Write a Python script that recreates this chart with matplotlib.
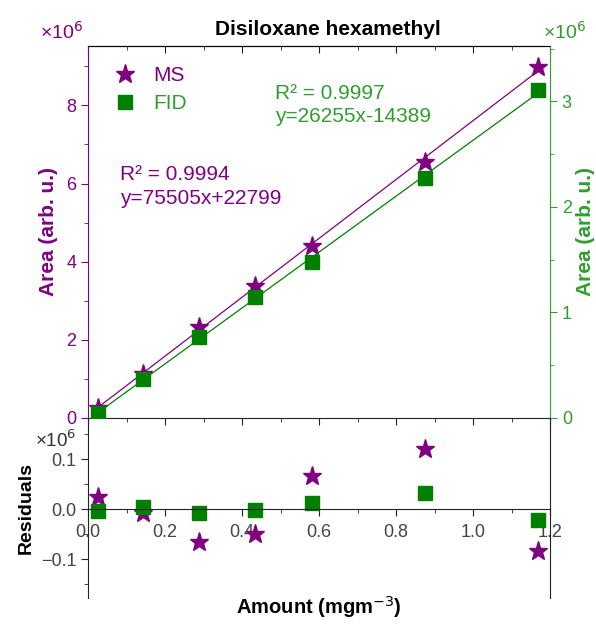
import numpy as np
import matplotlib
matplotlib.use('Agg')
import matplotlib.pyplot as plt
from matplotlib.ticker import MultipleLocator, FuncFormatter
from matplotlib.lines import Line2D

plt.rcParams['font.family'] = ['Liberation Sans', 'DejaVu Sans']
plt.rcParams['axes.unicode_minus'] = True

# data
amount = [0.025, 0.142, 0.289, 0.435, 0.582, 0.876, 1.168]
area_ms = [0.256e6, 1.128e6, 2.333e6, 3.385e6, 4.41e6, 6.54e6, 8.97e6]
area_fid = [0.047e6, 0.370e6, 0.768e6, 1.147e6, 1.479e6, 2.275e6, 3.109e6]
resid_ms = [0.024e6, -0.008e6, -0.066e6, -0.050e6, 0.066e6, 0.120e6, -0.084e6]
resid_fid = [-0.004e6, 0.004e6, -0.008e6, -0.002e6, 0.012e6, 0.032e6, -0.022e6]

txt_ms = 'R² = 0.9994\ny=75505x+22799'
txt_fid = 'R² = 0.9997\ny=26255x-14389'

purple = '#800080'
green = '#008000'
green_txt = '#2f9e2f'
fs = 13
fl = 15

fig = plt.figure(figsize=(5.96, 6.24), dpi=100)
ax = fig.add_axes([88/596, 206/624, 462/596, 372/624])
ax2 = ax.twinx()
axr = fig.add_axes([88/596, 26/624, 462/596, 180/624])
axr.patch.set_visible(False)

x = np.array(amount)
xl = np.array([x[0], x[-1]])

# fits
p_ms = np.polyfit(x, area_ms, 1)
p_fid = np.polyfit(x, area_fid, 1)
ax.plot(xl, np.polyval(p_ms, xl), color=purple, lw=0.9)
ax.plot(x, area_ms, '*', color=purple, ms=14, zorder=3)
ax2.plot(xl, np.polyval(p_fid, xl), color=green, lw=0.9)
ax2.plot(x, area_fid, 's', color=green, ms=10.5, zorder=3)

ax.set_xlim(0, 1.2)
ax.set_ylim(0, 9.52e6)
ax2.set_ylim(0, 3.525e6)

sc = FuncFormatter(lambda v, p: f'{v/1e6:g}')
ax.yaxis.set_major_locator(MultipleLocator(2e6))
ax.yaxis.set_minor_locator(MultipleLocator(1e6))
ax.yaxis.set_major_formatter(sc)
ax2.yaxis.set_major_locator(MultipleLocator(1e6))
ax2.yaxis.set_minor_locator(MultipleLocator(0.5e6))
ax2.yaxis.set_major_formatter(sc)

ax.xaxis.set_major_locator(MultipleLocator(0.2))
ax.xaxis.set_minor_locator(MultipleLocator(0.1))
ax.tick_params(axis='x', which='both', direction='out', labelbottom=False, color='#222222')
ax.tick_params(axis='x', which='major', length=5)
ax.tick_params(axis='x', which='minor', length=3)
sec = ax.secondary_xaxis('top')
sec.xaxis.set_major_locator(MultipleLocator(0.2))
sec.xaxis.set_minor_locator(MultipleLocator(0.1))
sec.tick_params(axis='x', which='both', direction='in', labeltop=False, color='#222222')
sec.tick_params(axis='x', which='major', length=5)
sec.tick_params(axis='x', which='minor', length=3)
sec.spines['top'].set_color('#222222')

ax.tick_params(axis='y', which='both', colors=purple, labelsize=fs)
ax.tick_params(axis='y', which='major', length=5)
ax.tick_params(axis='y', which='minor', length=3)
ax2.tick_params(axis='y', which='both', colors=green_txt, labelsize=fs)
ax2.tick_params(axis='y', which='major', length=5)
ax2.tick_params(axis='y', which='minor', length=3)

ax.spines['left'].set_color(purple)
ax2.spines['left'].set_visible(False)
ax2.spines['right'].set_color(green_txt)
ax.spines['right'].set_visible(False)
ax2.spines['top'].set_visible(False)
ax2.spines['bottom'].set_visible(False)
ax.spines['bottom'].set_color('#222222')

ax.set_ylabel('Area (arb. u.)', color=purple, fontsize=fl, fontweight='bold', labelpad=6)
ax2.set_ylabel('Area (arb. u.)', color=green_txt, fontsize=fl, fontweight='bold', labelpad=3)
ax.set_title('Disiloxane hexamethyl', fontsize=fl, fontweight='bold', pad=8, x=0.52)

fig.text(40/596, 1 - 32/624, '×10$^6$', color=purple, fontsize=14, va='center')
fig.text(543/596, 1 - 32/624, '×10$^6$', color=green_txt, fontsize=14, va='center')

ax.text(0.069, 0.68, txt_ms, transform=ax.transAxes, color=purple, fontsize=fl,
        va='top', linespacing=1.3)
ax.text(0.405, 0.898, txt_fid, transform=ax.transAxes, color=green_txt, fontsize=fl,
        va='top', linespacing=1.25)

handles = [Line2D([], [], ls='', marker='*', color=purple, ms=14),
           Line2D([], [], ls='', marker='s', color=green, ms=10)]
leg = ax.legend(handles, ['MS', 'FID'], loc='upper left', frameon=False, fontsize=fl,
                bbox_to_anchor=(0.013, 0.997), handlelength=1.2, handletextpad=0.75,
                labelspacing=0.45)
leg.get_texts()[0].set_color(purple)
leg.get_texts()[1].set_color(green_txt)

# residuals panel
axr.plot(x, resid_ms, '*', color=purple, ms=14, ls='')
axr.plot(x, resid_fid, 's', color=green, ms=10.5, ls='')
axr.set_xlim(0, 1.2)
axr.set_ylim(-0.178e6, 0.182e6)
axr.spines['bottom'].set_position(('data', 0))
axr.spines['top'].set_visible(False)
axr.spines['left'].set_color('#222222')
axr.spines['right'].set_color('#222222')
axr.spines['bottom'].set_color('#222222')
axr.xaxis.set_major_locator(MultipleLocator(0.2))
axr.xaxis.set_minor_locator(MultipleLocator(0.1))
axr.xaxis.set_major_formatter(FuncFormatter(lambda v, p: f'{v:.1f}'))
axr.yaxis.set_major_locator(MultipleLocator(0.1e6))
axr.yaxis.set_minor_locator(MultipleLocator(0.05e6))
axr.yaxis.set_major_formatter(FuncFormatter(lambda v, p: f'{v/1e6:.1f}'.replace('-', '\u2212')))
axr.tick_params(which='both', colors='#222222', labelcolor='#444444', labelsize=fs)
axr.tick_params(which='major', length=5)
axr.tick_params(which='minor', length=3)
axr.tick_params(axis='x', pad=6)
axr.set_ylabel('Residuals', fontsize=14, fontweight='bold', labelpad=4)
axr.set_xlabel('Amount (mgm$^{-3}$)', fontsize=14.5, fontweight='bold', va='center')
axr.xaxis.set_label_coords(0.5, -0.05)
fig.text(35/596, 1 - 440/624, '×10$^6$', color='#333333', fontsize=13.5, va='center')

fig.savefig('out.png', dpi=100)
